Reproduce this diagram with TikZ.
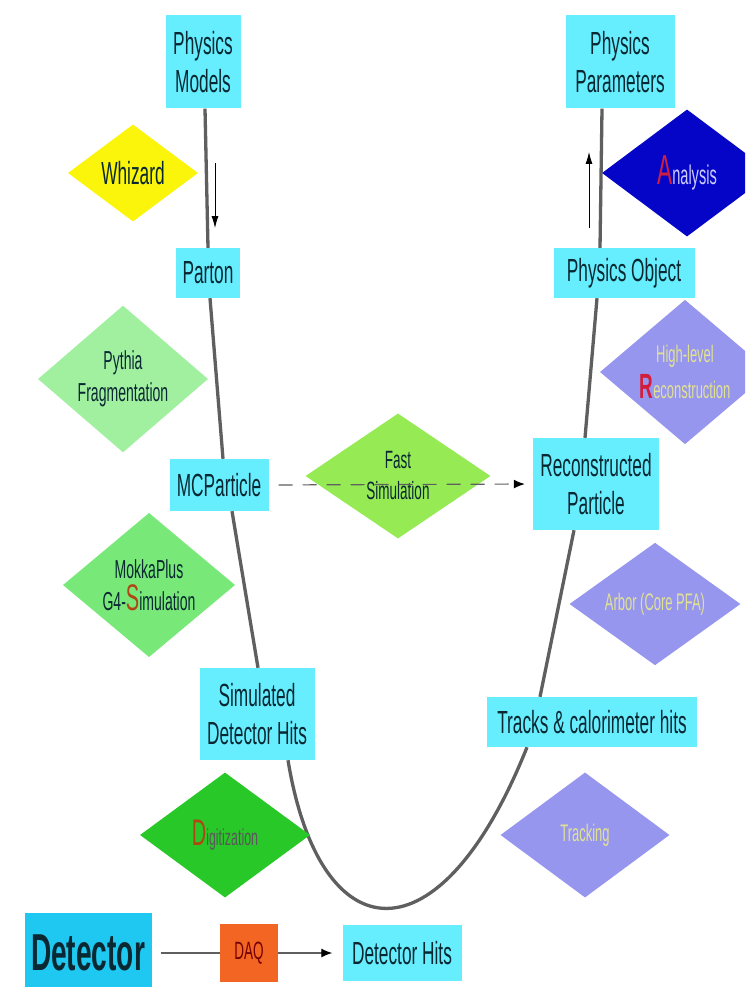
\documentclass[tikz,border=0pt]{standalone}
\usepackage{fontspec}
\newfontfamily\narrowsf[FakeStretch=0.54]{Liberation Sans}
\usetikzlibrary{shapes.geometric,arrows.meta,backgrounds}
\definecolor{boxcyan}{RGB}{102,238,255}
\definecolor{detcyan}{RGB}{30,200,240}
\definecolor{boxtext}{RGB}{10,40,50}
\definecolor{whizyellow}{RGB}{250,245,10}
\definecolor{pythgreen}{RGB}{160,240,160}
\definecolor{mokkagreen}{RGB}{120,232,120}
\definecolor{fastgreen}{RGB}{150,235,85}
\definecolor{digigreen}{RGB}{40,200,40}
\definecolor{lavender}{RGB}{150,150,238}
\definecolor{anablue}{RGB}{5,5,200}
\definecolor{daqorange}{RGB}{242,101,34}
\definecolor{chaingray}{RGB}{95,95,95}
\definecolor{palegold}{RGB}{225,225,150}
\definecolor{redmark}{RGB}{210,30,60}
\definecolor{brownmark}{RGB}{175,70,20}
\tikzset{
  databox/.style={rectangle, fill=boxcyan, text=boxtext, align=center, inner sep=2pt,
    font=\narrowsf\fontsize{32}{38}\selectfont},
  procbox/.style={diamond, inner sep=0pt, align=center, text=boxtext,
    font=\narrowsf\fontsize{26}{32}\selectfont},
  chain/.style={draw=chaingray, line width=3.3pt},
  hint/.style={draw=black, line width=0.8pt, -{Latex[length=12pt,width=7pt]}},
}
\begin{document}
\begin{tikzpicture}[x=1pt,y=-1pt]
\clip (0,0) rectangle (745,987);
% left branch: generation and simulation
\node[databox, minimum width=75pt, minimum height=93pt] (models) at (203,62) {Physics\\Models};
\node[procbox, fill=whizyellow, minimum width=130pt, minimum height=97pt,
  font=\narrowsf\fontsize{32}{36}\selectfont] (whizard) at (133,173) {Whizard};
\node[databox, minimum width=64pt, minimum height=50pt] (parton) at (208,273) {Parton};
\node[procbox, fill=pythgreen, minimum width=170pt, minimum height=128pt] (pythia) at (123,379) {Pythia\\Fragmentation};
\node[databox, minimum width=99pt, minimum height=52pt] (mcp) at (219,485) {MCParticle};
\node[procbox, fill=mokkagreen, minimum width=172pt, minimum height=126pt] (mokka) at (149,585)
  {MokkaPlus\\G4-{\color{brownmark}\fontsize{37}{32}\selectfont S}imulation};
\node[databox, minimum width=115pt, minimum height=92pt] (simhits) at (257,714) {Simulated\\Detector Hits};
\node[procbox, fill=digigreen, text=black!65, minimum width=170pt, minimum height=125pt,
  font=\narrowsf\fontsize{23}{28}\selectfont] (digi) at (225,835)
  {{\color{brownmark}\fontsize{37}{32}\selectfont D}igitization};
% bottom: real data
\node[rectangle, fill=detcyan, text=boxtext, minimum width=127pt, minimum height=80pt,
  font=\narrowsf\bfseries\fontsize{52}{54}\selectfont] (detector) at (88,953) {Detector};
\node[rectangle, fill=daqorange, text=red!45!black, minimum width=58pt, minimum height=58pt,
  font=\narrowsf\fontsize{25}{28}\selectfont] (daq) at (249,953) {DAQ};
\node[databox, minimum width=119pt, minimum height=56pt] (dethits) at (402,953) {Detector Hits};
% right branch: reconstruction and analysis
\node[procbox, fill=lavender, text=palegold, minimum width=169pt, minimum height=125pt,
  font=\narrowsf\fontsize{24}{28}\selectfont] (tracking) at (585,835) {Tracking};
\node[databox, minimum width=210pt, minimum height=50pt] (tracks) at (592,722) {Tracks \& calorimeter hits};
\node[procbox, fill=lavender, text=palegold, minimum width=171pt, minimum height=112pt,
  font=\narrowsf\fontsize{24}{28}\selectfont] (arbor) at (655,604) {Arbor (Core PFA)};
\node[databox, minimum width=126pt, minimum height=92pt] (recop) at (596,484) {Reconstructed\\Particle};
\node[procbox, fill=fastgreen, minimum width=185pt, minimum height=125pt,
  font=\narrowsf\fontsize{25}{31}\selectfont] (fastsim) at (398,476) {Fast\\Simulation};
\node[procbox, fill=lavender, text=palegold, minimum width=170pt, minimum height=127pt,
  font=\narrowsf\fontsize{24}{36}\selectfont] (highlevel) at (685,372)
  {High-level\\{\color{redmark}\bfseries\fontsize{35}{32}\selectfont R}econstruction};
\node[databox, minimum width=141pt, minimum height=50pt] (physobj) at (624,273) {Physics Object};
\node[procbox, fill=anablue, text=blue!20, minimum width=170pt, minimum height=127pt,
  font=\narrowsf\fontsize{27}{32}\selectfont] (analysis) at (687,173)
  {{\color{redmark}\fontsize{42}{32}\selectfont A}nalysis};
\node[databox, minimum width=109pt, minimum height=93pt] (params) at (620,62) {Physics\\Parameters};

% the long chain, under the boxes
\begin{scope}[on background layer]
\fill[white] (0,0) rectangle (745,987);
\draw[chain] ([xshift=2pt]models.south) -- (parton.north);
\draw[chain] ([xshift=2pt]parton.south) -- ([xshift=4pt]mcp.north);
\draw[chain] ([xshift=13pt]mcp.south) -- ([xshift=1pt]simhits.north);
\draw[chain] ([xshift=31pt]simhits.south) .. controls (320,955) and (440,965) .. ([xshift=-65pt]tracks.south);
\draw[chain] ([xshift=-52pt]tracks.north) -- ([xshift=-22pt]recop.south);
\draw[chain] ([xshift=-11pt]recop.north) -- ([xshift=-27pt]physobj.south);
\draw[chain] ([xshift=-24pt]physobj.north) -- ([xshift=-18pt]params.south);
\end{scope}

% direction hints
\coordinate (downtail) at (215,163);
\coordinate (downtip) at (215,228);
\coordinate (uptail) at (589,228);
\coordinate (uptip) at (589,152);
\draw[hint] (downtail) -- (downtip);
\draw[hint] (uptail) -- (uptip);

% shortcut and data taking
\draw[draw=chaingray, line width=1.2pt, dash pattern=on 14pt off 10pt,
  -{Latex[color=black,length=11pt,width=9pt]}, shorten <=10pt, shorten >=8pt] (mcp.east) -- (recop.west);
\draw[draw=chaingray, line width=1.2pt, shorten <=9pt] (detector.east) -- (daq.west);
\draw[draw=chaingray, line width=1.2pt, -{Latex[color=black,length=11pt,width=9pt]},
  shorten >=10pt] (daq.east) -- (dethits.west);
\end{tikzpicture}
\end{document}
